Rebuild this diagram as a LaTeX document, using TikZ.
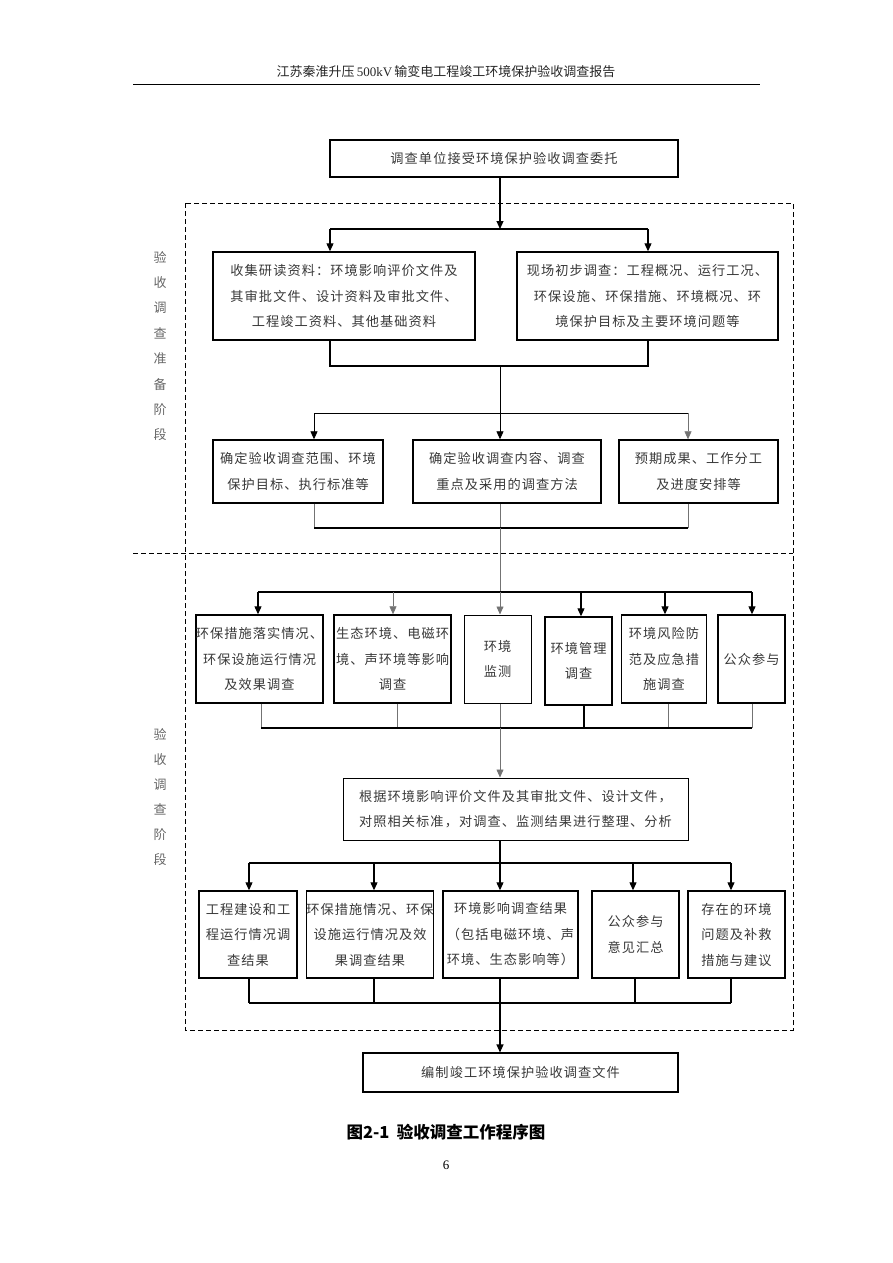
\documentclass[tikz,border=0pt]{standalone}
\usepackage{fontspec}
\setmainfont{Liberation Serif}
\newfontfamily\cjk[LetterSpace=8]{Noto Sans CJK SC}
\newfontfamily\cjkh{Noto Sans CJK SC}
\usetikzlibrary{arrows.meta}
\tikzset{
  bx/.style={draw=black, line width=1.4pt, inner sep=0pt, align=center, text=black!78,
    font=\cjk\fontsize{13.2}{25.5}\selectfont},
  conn/.style={line width=1.1pt, black},
  medc/.style={line width=0.8pt, black},
  thinc/.style={line width=0.6pt, black!55},
  arr/.style={-{Triangle[length=8pt,width=7pt]}},
  frame/.style={line width=0.9pt, dash pattern=on 5pt off 3pt},
  side/.style={text=black!60, align=center, inner sep=0pt, font=\cjkh\fontsize{13}{25.4}\selectfont}
}
\begin{document}
\begin{tikzpicture}[x=1pt,y=-1pt]
\useasboundingbox (0,0) rectangle (892,1263);
% header
\node[font=\cjkh\fontsize{13}{15}\selectfont, text=black!85] (hdr) at (446,72) {江苏秦淮升压{\rmfamily\,500kV\,}输变电工程竣工环境保护验收调查报告};
\draw[line width=1pt] (133,84) -- (760,84);

% frames
\draw[frame] (185,203) rectangle (793,1030);
\draw[frame] (133,553) -- (793,553);
\node[side] (s1) at (160,346) {验\\收\\调\\查\\准\\备\\阶\\段};
\node[side, font=\cjkh\fontsize{13}{25}\selectfont] (s2) at (160,797.5) {验\\收\\调\\查\\阶\\段};

% boxes
\node[bx, minimum width=348, minimum height=37] (top) at (504,158.5) {调查单位接受环境保护验收调查委托};
\node[bx, minimum width=262, minimum height=88] (L) at (344,296) {收集研读资料：环境影响评价文件及\\其审批文件、设计资料及审批文件、\\工程竣工资料、其他基础资料};
\node[bx, minimum width=261, minimum height=88] (R) at (647.5,296) {现场初步调查：工程概况、运行工况、\\环保设施、环保措施、环境概况、环\\境保护目标及主要环境问题等};

\node[bx, minimum width=170, minimum height=63] (A) at (298,471.5) {确定验收调查范围、环境\\保护目标、执行标准等};
\node[bx, minimum width=188, minimum height=63] (B) at (507,471.5) {确定验收调查内容、调查\\重点及采用的调查方法};
\node[bx, minimum width=159, minimum height=63] (C) at (698.5,471.5) {预期成果、工作分工\\及进度安排等};

\node[bx, minimum width=126, minimum height=88] (p1) at (259.5,659) {环保措施落实情况、\\环保设施运行情况\\及效果调查};
\node[bx, minimum width=117, minimum height=88] (p2) at (392.5,659) {生态环境、电磁环\\境、声环境等影响\\调查};
\node[bx, line width=1pt, minimum width=67, minimum height=88] (p3) at (497.5,659) {环境\\监测};
\node[bx, minimum width=67, minimum height=88] (p4) at (578.5,661) {环境管理\\调查};
\node[bx, minimum width=85, minimum height=88] (p5) at (664,659) {环境风险防\\范及应急措\\施调查};
\node[bx, minimum width=67, minimum height=88] (p6) at (751.5,659) {公众参与};

\node[bx, line width=1pt, minimum width=345, minimum height=62] (M) at (515.5,809) {根据环境影响评价文件及其审批文件、设计文件，\\对照相关标准，对调查、监测结果进行整理、分析};

\node[bx, minimum width=98, minimum height=87] (q1) at (248,934.5) {工程建设和工\\程运行情况调\\查结果};
\node[bx, minimum width=124, minimum height=87] (q2) at (370,934.5) {环保措施情况、环保\\设施运行情况及效\\果调查结果};
\node[bx, minimum width=135, minimum height=87] (q3) at (510.5,934.5) {环境影响调查结果\\（包括电磁环境、声\\环境、生态影响等）};
\node[bx, minimum width=87, minimum height=87] (q4) at (635.5,934.5) {公众参与\\意见汇总};
\node[bx, minimum width=97, minimum height=87] (q5) at (736.5,934.5) {存在的环境\\问题及补救\\措施与建议};

\node[bx, line width=1.1pt, minimum width=315, minimum height=39] (bot) at (520.5,1072.5) {编制竣工环境保护验收调查文件};

% bus coordinates
\coordinate (j1) at (500,229);
\coordinate (j1l) at (330,229);
\coordinate (j1r) at (648,229);
\coordinate (j2l) at (330,366);
\coordinate (j2r) at (648,366);
\coordinate (j2) at (500,366);
\coordinate (j3) at (500,413);
\coordinate (j3l) at (314,413);
\coordinate (j3r) at (688,413);
\coordinate (j4l) at (314,528);
\coordinate (j4r) at (688,528);
\coordinate (j4) at (500,528);
\coordinate (j5) at (500,592);
\coordinate (j5a) at (258,592);
\coordinate (j5b) at (393,592);
\coordinate (j5d) at (581,592);
\coordinate (j5e) at (665,592);
\coordinate (j5f) at (752,592);
\coordinate (j6a) at (261,728);
\coordinate (j6b) at (397,728);
\coordinate (j6) at (500,728);
\coordinate (j6d) at (584,728);
\coordinate (j6e) at (668,728);
\coordinate (j6f) at (752,728);
\coordinate (j7) at (500,863);
\coordinate (j7a) at (249,863);
\coordinate (j7b) at (374,863);
\coordinate (j7d) at (633,863);
\coordinate (j7e) at (731,863);
\coordinate (j8) at (500,1003);
\coordinate (j8a) at (249,1003);
\coordinate (j8b) at (374,1003);
\coordinate (j8d) at (635,1003);
\coordinate (j8e) at (731,1003);

% top section
\draw[conn,arr] (top.south -| j1) -- (j1);
\draw[conn] (j1l) -- (j1r);
\draw[conn,arr] (j1l) -- (L.north -| j1l);
\draw[conn,arr] (j1r) -- (R.north -| j1r);
\draw[conn] (L.south -| j2l) -- (j2l) -- (j2r) -- (R.south -| j2r);
\draw[medc] (j2) -- (j3);
\draw[medc] (j3l) -- (j3r);
\draw[medc,arr] (j3l) -- (A.north -| j3l);
\draw[medc,arr] (j3) -- (B.north -| j3);
\draw[thinc,arr] (j3r) -- (C.north -| j3r);
\draw[thinc] (A.south -| j4l) -- (j4l);
\draw[thinc] (B.south -| j4) -- (j4);
\draw[thinc] (C.south -| j4r) -- (j4r);
\draw[conn] (j4l) -- (j4r);
\draw[thinc] (j4) -- (j5);

% second section
\draw[conn] (j5a) -- (j5f);
\draw[conn,arr] (j5a) -- (p1.north -| j5a);
\draw[thinc,arr] (j5b) -- (p2.north -| j5b);
\draw[thinc,arr] (j5) -- (p3.north -| j5);
\draw[conn,arr] (j5d) -- (p4.north -| j5d);
\draw[conn,arr] (j5e) -- (p5.north -| j5e);
\draw[conn,arr] (j5f) -- (p6.north -| j5f);
\draw[thinc] (p1.south -| j6a) -- (j6a);
\draw[thinc] (p2.south -| j6b) -- (j6b);
\draw[thinc] (p3.south -| j6) -- (j6);
\draw[conn] (p4.south -| j6d) -- (j6d);
\draw[thinc] (p5.south -| j6e) -- (j6e);
\draw[thinc] (p6.south -| j6f) -- (j6f);
\draw[conn] (j6a) -- (j6f);
\draw[thinc,arr] (j6) -- (M.north -| j6);

\draw[line width=1.6pt] (M.south -| j7) -- (j7);
\draw[conn] (j7a) -- (j7e);
\draw[conn,arr] (j7a) -- (q1.north -| j7a);
\draw[conn,arr] (j7b) -- (q2.north -| j7b);
\draw[conn,arr] (j7) -- (q3.north -| j7);
\draw[conn,arr] (j7d) -- (q4.north -| j7d);
\draw[conn,arr] (j7e) -- (q5.north -| j7e);
\draw[conn] (q1.south -| j8a) -- (j8a);
\draw[conn] (q2.south -| j8b) -- (j8b);
\draw[conn] (q3.south -| j8) -- (j8);
\draw[conn] (q4.south -| j8d) -- (j8d);
\draw[conn] (q5.south -| j8e) -- (j8e);
\draw[conn] (j8a) -- (j8e);
\draw[conn,arr] (j8) -- (bot.north -| j8);

% caption
\node[font=\cjkh\bfseries\fontsize{16.5}{18}\selectfont] (cap) at (446,1132) {图2-1\ \ 验收调查工作程序图};
\node[font=\fontsize{13}{15}\selectfont] (pg) at (446,1165) {6};
\end{tikzpicture}
\end{document}
